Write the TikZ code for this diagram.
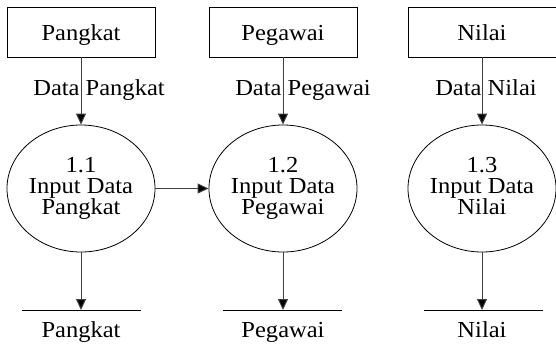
\documentclass[tikz,border=0pt]{standalone}
\usepackage{fontspec}
\setmainfont{Liberation Serif}
\usepackage{graphicx}
\usetikzlibrary{arrows.meta,shapes.geometric}
\newcommand{\T}[1]{\scalebox{1.07}[1]{#1}}
\begin{document}
\begin{tikzpicture}[x=1bp,y=-1bp,
  every node/.style={font=\fontsize{23}{21}\selectfont, inner sep=0pt},
  txt/.style={anchor=base, align=center},
  entity/.style={draw, line width=0.8bp, minimum width=148bp, minimum height=50bp},
  proc/.style={draw, line width=0.8bp, ellipse, minimum width=148bp, minimum height=127bp},
  flow/.style={draw=black!75, line width=1bp, -{Triangle[length=11bp,width=10bp,fill=black]}},
  store/.style={line width=0.9bp}]
\useasboundingbox (0,0) rectangle (556,350);
% entities
\node[entity] (e1) at (81,32) {};
\node[entity] (e2) at (283,32) {};
\node[entity] (e3) at (482,32) {};
\node[txt] (e1t) at (81,40) {\T{Pangkat}};
\node[txt] (e2t) at (283,40) {\T{Pegawai}};
\node[txt] (e3t) at (482,40) {\T{Nilai}};
% processes
\node[proc] (p1) at (81,188.5) {};
\node[proc] (p2) at (283,188.5) {};
\node[proc] (p3) at (482,188.5) {};
\node[txt] (p1t) at (81,214) {\T{1.1}\\\T{Input Data}\\\T{Pangkat}};
\node[txt] (p2t) at (283,214) {\T{1.2}\\\T{Input Data}\\\T{Pegawai}};
\node[txt] (p3t) at (482,214) {\T{1.3}\\\T{Input Data}\\\T{Nilai}};
% data stores
\coordinate (s1l) at (22,310); \coordinate (s1r) at (141,310);
\coordinate (s2l) at (223,310); \coordinate (s2r) at (342,310);
\coordinate (s3l) at (424,310); \coordinate (s3r) at (543,310);
\draw[store] (s1l) -- (s1r);
\draw[store] (s2l) -- (s2r);
\draw[store] (s3l) -- (s3r);
\node[txt] (s1) at (81,337) {\T{Pangkat}};
\node[txt] (s2) at (283,337) {\T{Pegawai}};
\node[txt] (s3) at (482,337) {\T{Nilai}};
\coordinate (s1t) at (81,310);
\coordinate (s2t) at (283,310);
\coordinate (s3t) at (482,310);
% flows
\draw[flow] (e1.south) -- (p1.north);
\draw[flow] (e2.south) -- (p2.north);
\draw[flow] (e3.south) -- (p3.north);
\draw[flow] (p1.east) -- (p2.west);
\draw[flow] (p1.south) -- (s1t);
\draw[flow] (p2.south) -- (s2t);
\draw[flow] (p3.south) -- (s3t);
% flow labels
\node[txt] (l1) at (99,95) {\T{Data Pangkat}};
\node[txt] (l2) at (303,95) {\T{Data Pegawai}};
\node[txt] (l3) at (486,95) {\T{Data Nilai}};
\end{tikzpicture}
\end{document}
